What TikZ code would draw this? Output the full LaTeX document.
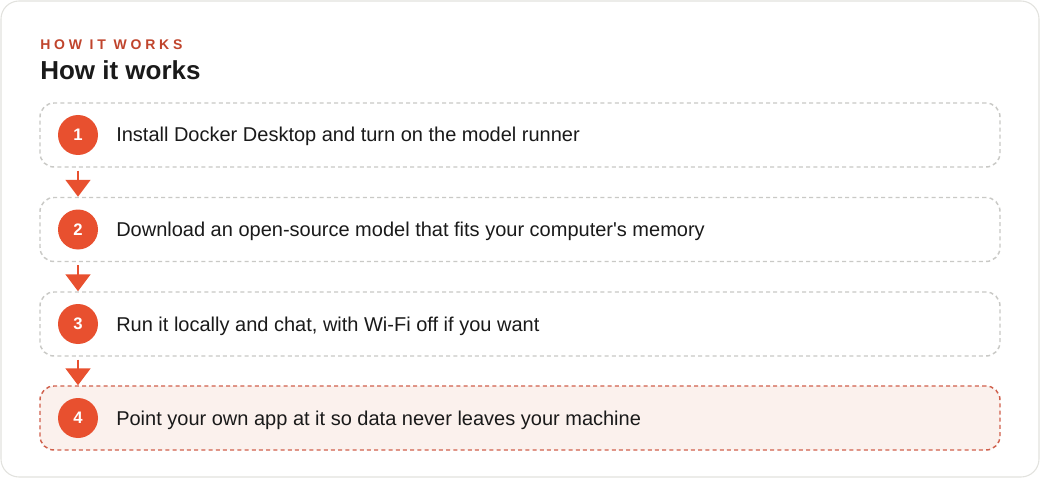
\documentclass[tikz,border=0pt]{standalone}
\usepackage{fontspec}
\setmainfont{Liberation Sans}
\newfontfamily\eyebrowfont[LetterSpace=27]{Liberation Sans}
\usetikzlibrary{arrows.meta,positioning}
\definecolor{accent}{HTML}{E8502F}
\definecolor{eyebrow}{HTML}{C0442C}
\definecolor{boxline}{HTML}{C9C9C6}
\definecolor{lastfill}{HTML}{FBF1ED}
\definecolor{lastline}{HTML}{D0604C}
\definecolor{ink}{HTML}{1A1A1A}
\definecolor{cardline}{HTML}{E2E2DE}

\begin{document}
\begin{tikzpicture}[x=0.75pt,y=-0.75pt]
  \tikzset{stepbox/.style={draw=boxline,line width=1.1pt,dash pattern=on 3pt off 2.4pt,
             rounded corners=10.5pt,minimum width=720pt,minimum height=48pt},
           laststep/.style={stepbox,draw=lastline,fill=lastfill},
           stepnum/.style={circle,fill=accent,text=white,inner sep=0pt,minimum size=30pt,
             font=\fontsize{12.5}{14}\selectfont\bfseries},
           steptext/.style={anchor=base west,inner sep=0pt,text=ink,font=\fontsize{15}{18}\selectfont},
           flow/.style={draw=accent,line width=1.5pt,-{Triangle[width=18.75pt,length=12.75pt]},
             shorten <=2.25pt}}
  \useasboundingbox (0,0) rectangle (1040,478);
  \draw[cardline,fill=white,line width=0.8pt,rounded corners=13.5pt] (1,1) rectangle (1039,477);
  % heading
  \node[anchor=base west,inner sep=0pt,text=eyebrow,font=\eyebrowfont\fontsize{10.5}{12}\selectfont\bfseries]
    (eyebrow) at (40,50) {HOW IT WORKS};
  \node[anchor=base west,inner sep=0pt,text=ink,font=\fontsize{19.5}{22}\selectfont\bfseries]
    (title) at (40,80) {How it works};
  % steps
  \node[stepbox] (s1) at (520,135) {};
  \node[stepbox] (s2) at (520,229.5) {};
  \node[stepbox] (s3) at (520,324) {};
  \node[laststep] (s4) at (520,418) {};
  \node[stepnum] (n1) at (78,135) {1};
  \node[stepnum] (n2) at (78,229.5) {2};
  \node[stepnum] (n3) at (78,324) {3};
  \node[stepnum] (n4) at (78,418) {4};
  \node[steptext] (t1) at (116,142) {Install Docker Desktop and turn on the model runner};
  \node[steptext] (t2) at (116,236.5) {Download an open-source model that fits your computer\textquotesingle s memory};
  \node[steptext] (t3) at (116,331) {Run it locally and chat, with Wi-Fi off if you want};
  \node[steptext] (t4) at (116,425) {Point your own app at it so data never leaves your machine};
  \draw[flow] (n1 |- s1.south) -- (n2 |- s2.north);
  \draw[flow] (n2 |- s2.south) -- (n3 |- s3.north);
  \draw[flow] (n3 |- s3.south) -- (n4 |- s4.north);
\end{tikzpicture}
\end{document}
